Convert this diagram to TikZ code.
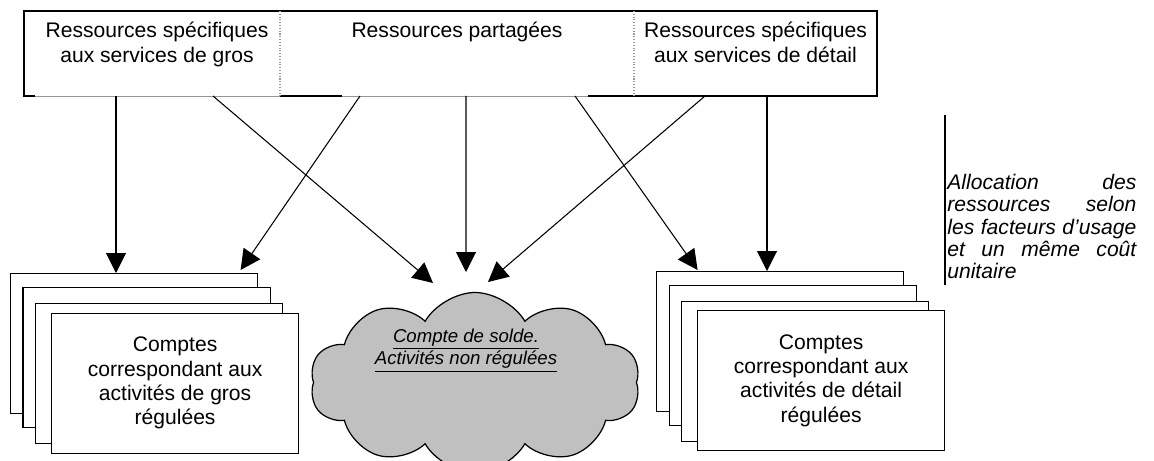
\documentclass[tikz,border=0pt]{standalone}
\usepackage{fontspec}
\setmainfont{Liberation Sans}
\usetikzlibrary{arrows.meta,positioning,calc,shapes.symbols}
\definecolor{CloudGray}{RGB}{192,192,192}
\definecolor{EdgeGray}{RGB}{150,150,150}
\newlength{\notew}
\setlength{\notew}{3.78cm}
\newcommand{\noteline}[1]{\noindent\hbox to \notew{#1}}
\tikzset{
  cell/.style={rectangle,inner sep=0pt,outer sep=0pt,minimum height=1.7cm},
  restxt/.style={inner sep=0pt,align=center,font=\fontsize{12}{14.2}\selectfont},
  acct/.style={rectangle,draw=black,line width=0.7pt,fill=white,
               minimum width=4.94cm,minimum height=2.8cm,inner sep=0pt,
               align=center,font=\fontsize{12}{13.8}\selectfont},
  nuage/.style={cloud,cloud puffs=10,cloud puff arc=120,aspect=1.9,draw=black,
                line width=0.7pt,fill=CloudGray,minimum width=6.6cm,minimum height=3.6cm},
  alloc/.style={-{Triangle[length=4mm,width=4mm]},line width=0.6pt},
  sep/.style={densely dotted,EdgeGray,line width=0.6pt},
}
\begin{document}
\begin{tikzpicture}
  \useasboundingbox (0,0) rectangle (23.08,9.2);
  % bandeau des ressources
  \node[cell,minimum width=5.12cm,anchor=north west] (gros) at (0.48,8.98) {};
  \node[cell,minimum width=7.08cm,right=0pt of gros] (part) {};
  \node[cell,minimum width=4.86cm,right=0pt of part] (det) {};
  \draw[EdgeGray,line width=0.4pt] (gros.south west) -- (det.south east);
  \draw[line width=0.7pt] ([xshift=-5.78cm]det.south east) -- (det.south east)
    -- (det.north east) -- (gros.north west) -- (gros.south west) -- ++(0.22,0);
  \draw[line width=0.7pt] (part.south west) -- ++(1.24,0);
  \draw[sep] (gros.north east) -- (gros.south east);
  \draw[sep] (part.north east) -- (part.south east);
  \node[restxt,below=0.22cm of gros.north,xshift=0.1cm] {Ressources spécifiques\\aux services de gros};
  \node[restxt,below=0.22cm of part.north] {Ressources partagées};
  \node[restxt,below=0.22cm of det.north] {Ressources spécifiques\\aux services de détail};
  % points de depart
  \coordinate (g1) at ([xshift=-0.72cm]gros.south);
  \coordinate (g2) at ([xshift=1.22cm]gros.south);
  \coordinate (p1) at ([xshift=-1.94cm]part.south);
  \coordinate (p2) at ([xshift=0.18cm]part.south);
  \coordinate (p3) at ([xshift=2.36cm]part.south);
  \coordinate (d1) at ([xshift=-1.01cm]det.south);
  \coordinate (d2) at ([xshift=0.23cm]det.south);
  % comptes de gros
  \foreach \dx/\dy [count=\i] in {0/0,0.25/-0.28,0.49/-0.6}
    \node[acct,anchor=north west] (cgros\i) at ($(0.2,3.74)+(\dx,\dy)$) {};
  \node[acct,anchor=north west] (cgros4) at (1.02,2.95)
    {Comptes\\correspondant aux\\activités de gros\\régulées};
  % comptes de detail
  \foreach \dx/\dy [count=\i] in {0/0,0.25/-0.28,0.49/-0.6}
    \node[acct,anchor=north west] (cdet\i) at ($(13.12,3.78)+(\dx,\dy)$) {};
  \node[acct,anchor=north west] (cdet4) at (13.94,3.0)
    {Comptes\\correspondant aux\\activités de détail\\régulées};
  % compte de solde
  \node[nuage] (solde) at (9.5,1.55) {};
  \node[inner sep=0pt,align=center,font=\itshape\fontsize{10.6}{11.6}\selectfont] (soldetxt) at (9.32,2.19)
    {\underline{Compte de solde.}\\\underline{Activités non régulées}};
  % allocations
  \draw[alloc] (g1) -- (g1 |- cgros1.north);
  \draw[alloc] (g2) -- ([shift={(-0.84,1.99)}]solde.center);
  \draw[alloc] (p1) -- ([shift={(2.13,0.06)}]cgros1.north);
  \draw[alloc] (p2) -- ([shift={(-0.18,2.21)}]solde.center);
  \draw[alloc] (p3) -- ([shift={(-1.65,0.02)}]cdet1.north);
  \draw[alloc] (d1) -- ([shift={(0.26,2.01)}]solde.center);
  \draw[alloc] (d2) -- (d2 |- cdet1.north);
  % legende
  \coordinate (barTop) at (18.9,6.9);
  \coordinate (barBot) at (18.9,3.5);
  \draw[line width=0.7pt] (barTop) -- (barBot);
  \node[anchor=west,text width=\notew,inner sep=0pt,font=\itshape\fontsize{12}{12.6}\selectfont] (note) at (18.94,4.67)
    {\noteline{Allocation\hfill des}\\
     \noteline{ressources\hfill selon}\\
     \noteline{les\hfill facteurs\hfill d’usage}\\
     \noteline{et\hfill un\hfill même\hfill coût}\\
     unitaire};
\end{tikzpicture}
\end{document}
